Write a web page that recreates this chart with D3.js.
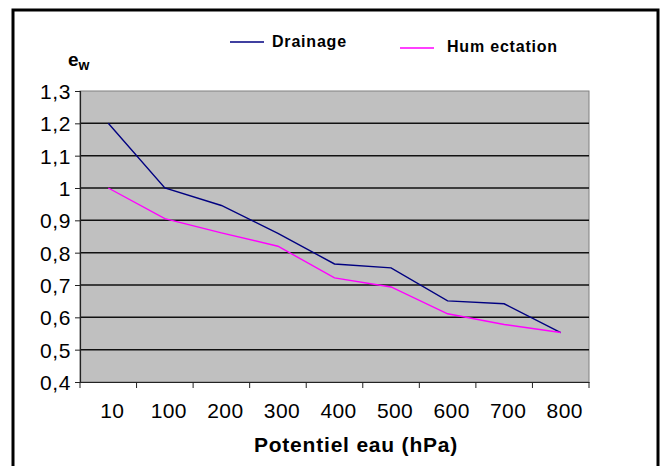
<!DOCTYPE html>
<html>
<head>
<meta charset="utf-8">
<script src="https://cdn.jsdelivr.net/npm/d3@7"></script>
<style>
	body { margin: 0; background: #fff; }
	svg, svg text { font-family: "Liberation Sans", Arial, sans-serif; }
</style>
</head>
<body>
<div class="chart-area"></div>
<script>
	var categories = ['10', '100', '200', '300', '400', '500', '600', '700', '800'];
	var drainage = [1.2, 1.0, 0.946, 0.86, 0.765, 0.753, 0.651, 0.642, 0.553];
	var humectation = [1.0, 0.905, 0.861, 0.82, 0.722, 0.694, 0.611, 0.578, 0.553];
	var yTicks = [0.4, 0.5, 0.6, 0.7, 0.8, 0.9, 1.0, 1.1, 1.2, 1.3];

	var width = 664;
	var height = 466;
	var svg = d3.select('.chart-area').append('svg:svg')
		.attr('width', width)
		.attr('height', height)
		.attr('font-family', '"Liberation Sans", Arial, sans-serif');

	// outer frame, bottom edge runs off the picture
	svg.append('svg:rect')
		.attr('x', 13)
		.attr('y', 10)
		.attr('width', 645)
		.attr('height', 470)
		.attr('fill', 'none')
		.attr('stroke', '#000')
		.attr('stroke-width', 3);

	var plot = { left: 80, right: 589, top: 91, bottom: 382 };

	var x = d3.scaleBand()
		.domain(categories)
		.range([plot.left, plot.right])
		.padding(0);
	var y = d3.scaleLinear()
		.domain([0.4, 1.3])
		.range([plot.bottom, plot.top]);

	// grey plot background
	svg.append('svg:rect')
		.attr('x', plot.left)
		.attr('y', plot.top)
		.attr('width', plot.right - plot.left)
		.attr('height', plot.bottom - plot.top)
		.attr('fill', '#c0c0c0')
		.attr('stroke', '#808080')
		.attr('stroke-width', 1);

	// horizontal gridlines
	svg.append('svg:g')
		.attr('class', 'grid')
		.selectAll('line')
		.data(yTicks.slice(1, -1))
		.enter().append('svg:line')
		.attr('x1', plot.left)
		.attr('x2', plot.right)
		.attr('y1', function(d) { return y(d); })
		.attr('y2', function(d) { return y(d); })
		.attr('stroke', '#111')
		.attr('stroke-width', 1.5);

	// y axis
	var yAxis = svg.append('svg:g')
		.attr('transform', 'translate(' + plot.left + ',0)')
		.call(d3.axisLeft(y)
			.tickValues(yTicks)
			.tickSize(5)
			.tickPadding(4)
			.tickFormat(function(d) { return d3.format('.1~f')(d).replace('.', ','); }));
	yAxis.attr('font-family', null).attr('font-size', null);
	yAxis.select('.domain').attr('stroke', '#222').attr('stroke-width', 1.2);
	yAxis.selectAll('.tick line').attr('stroke', '#222');
	yAxis.selectAll('.tick text')
		.attr('fill', '#000')
		.attr('font-size', 21)
		.attr('letter-spacing', 0.6)
		.attr('dy', '0.36em');

	// x axis, ticks sit on the category boundaries
	var xAxis = svg.append('svg:g')
		.attr('transform', 'translate(0,' + plot.bottom + ')')
		.call(d3.axisBottom(x).tickSize(0).tickPadding(21));
	xAxis.attr('font-family', null).attr('font-size', null);
	xAxis.select('.domain').attr('stroke', '#222').attr('stroke-width', 1.2);
	xAxis.selectAll('.tick text')
		.attr('fill', '#000')
		.attr('font-size', 21)
		.attr('letter-spacing', 0.4)
		.attr('x', 4);
	var bounds = categories.map(function(c) { return x(c); }).concat([plot.right]);
	xAxis.selectAll('.bound')
		.data(bounds)
		.enter().append('svg:line')
		.attr('class', 'bound')
		.attr('x1', function(d) { return d; })
		.attr('x2', function(d) { return d; })
		.attr('y1', 0)
		.attr('y2', 6)
		.attr('stroke', '#222');

	// series lines
	function drawSeries(values, colour) {
		var line = d3.line()
			.x(function(d, i) { return x(categories[i]) + x.bandwidth() / 2; })
			.y(function(d) { return y(d); });
		svg.append('svg:path')
			.attr('d', line(values))
			.attr('fill', 'none')
			.attr('stroke', colour)
			.attr('stroke-width', 1.4);
	}
	drawSeries(drainage, '#000080');
	drawSeries(humectation, '#ff00ff');

	// legend
	var legend = svg.append('svg:g')
		.attr('class', 'legend')
		.attr('font-weight', 'bold')
		.attr('font-size', 16)
		.attr('letter-spacing', 0.8);
	legend.append('svg:line')
		.attr('x1', 230).attr('x2', 264)
		.attr('y1', 42).attr('y2', 42)
		.attr('stroke', '#000080').attr('stroke-width', 1.3);
	legend.append('svg:text')
		.attr('x', 272).attr('y', 47)
		.text('Drainage');
	legend.append('svg:line')
		.attr('x1', 400).attr('x2', 434)
		.attr('y1', 48).attr('y2', 48)
		.attr('stroke', '#ff00ff').attr('stroke-width', 1.3);
	legend.append('svg:text')
		.attr('x', 447).attr('y', 52)
		.text('Hum ectation');

	// axis titles
	var ew = svg.append('svg:text')
		.attr('x', 68)
		.attr('y', 66)
		.attr('font-weight', 'bold')
		.attr('font-size', 19);
	ew.append('svg:tspan').text('e');
	ew.append('svg:tspan')
		.attr('font-size', 14)
		.attr('dy', 4)
		.text('w');

	svg.append('svg:text')
		.attr('x', 356)
		.attr('y', 452)
		.attr('text-anchor', 'middle')
		.attr('font-weight', 'bold')
		.attr('font-size', 21)
		.attr('letter-spacing', 0.8)
		.text('Potentiel eau (hPa)');
</script>
</body>
</html>
